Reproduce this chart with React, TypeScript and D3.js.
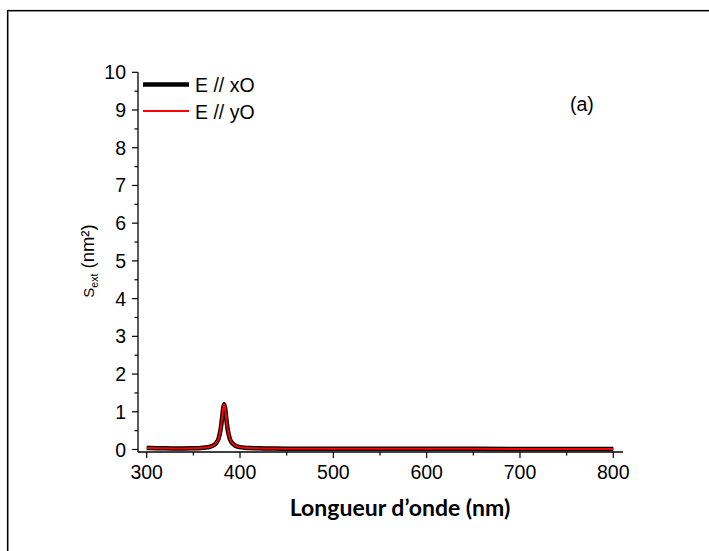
import React from "react";
import * as d3 from "d3";

const wavelengths = [300, 310, 320, 330, 340, 350, 355, 360, 365, 370, 373, 375, 377, 379, 380, 381, 382, 383, 384, 385, 386, 387, 389, 391, 393, 395, 400, 405, 410, 420, 430, 450, 500, 600, 700, 800];
const sextX = [0.04, 0.035, 0.03, 0.028, 0.028, 0.032, 0.036, 0.044, 0.058, 0.091, 0.136, 0.19, 0.29, 0.5, 0.67, 0.88, 1.1, 1.2, 1.1, 0.88, 0.67, 0.5, 0.29, 0.19, 0.136, 0.1, 0.063, 0.047, 0.037, 0.03, 0.026, 0.022, 0.02, 0.018, 0.016, 0.015];
const sextY = [0.04, 0.035, 0.03, 0.028, 0.028, 0.032, 0.036, 0.044, 0.058, 0.091, 0.136, 0.19, 0.29, 0.5, 0.67, 0.88, 1.1, 1.2, 1.1, 0.88, 0.67, 0.5, 0.29, 0.19, 0.136, 0.1, 0.063, 0.047, 0.037, 0.03, 0.026, 0.022, 0.02, 0.018, 0.016, 0.015];
const xTicks = [300, 400, 500, 600, 700, 800];
const yTicks = [0, 1, 2, 3, 4, 5, 6, 7, 8, 9, 10];
const legendLabels = ["E // xO", "E // yO"];

export default function App() {
  const x = d3.scaleLinear().domain([300, 800]).range([146.7, 613.3]);
  const y = d3.scaleLinear().domain([0, 10]).range([449.5, 72.3]);
  const xMinor = d3.range(350, 800, 100);
  const yMinor = d3.range(0.5, 10, 1);
  const axisLeft = 138;
  const axisBottom = 452;
  const line = d3
    .line<number>()
    .x((_, i) => x(wavelengths[i]))
    .y((d) => y(d))
    .curve(d3.curveMonotoneX);
  const font = "Liberation Sans, Arial, sans-serif";
  return (
    <svg
      width={709}
      height={551}
      style={{ position: "absolute", left: 0, top: 0, background: "#fff" }}
    >
      <rect x={0} y={0} width={709} height={551} fill="#fff" />
      <rect x={8.5} y={11.5} width={720} height={560} fill="none" stroke="#999" strokeWidth={1} />
      <rect x={7.5} y={10.5} width={720} height={560} fill="none" stroke="#000" strokeWidth={1.2} />
      {/* axes */}
      <line x1={axisLeft} x2={axisLeft} y1={y(10)} y2={axisBottom} stroke="#000" strokeWidth={1.3} />
      <line x1={axisLeft} x2={623} y1={axisBottom} y2={axisBottom} stroke="#000" strokeWidth={1.3} />
      {yTicks.map((t) => (
        <g key={"yt" + t}>
          <line x1={axisLeft - 6} x2={axisLeft} y1={y(t)} y2={y(t)} stroke="#000" strokeWidth={1.2} />
          <text x={axisLeft - 12} y={y(t) + 7} textAnchor="end" fontFamily={font} fontSize={19.5}>
            {t}
          </text>
        </g>
      ))}
      {yMinor.map((t) => (
        <line key={"ym" + t} x1={axisLeft - 3.5} x2={axisLeft} y1={y(t)} y2={y(t)} stroke="#000" strokeWidth={1.2} />
      ))}
      {xTicks.map((t) => (
        <g key={"xt" + t}>
          <line x1={x(t)} x2={x(t)} y1={axisBottom} y2={axisBottom + 6} stroke="#000" strokeWidth={1.2} />
          <text x={x(t)} y={axisBottom + 27} textAnchor="middle" fontFamily={font} fontSize={19.5}>
            {t}
          </text>
        </g>
      ))}
      {xMinor.map((t) => (
        <line key={"xm" + t} x1={x(t)} x2={x(t)} y1={axisBottom} y2={axisBottom + 3.5} stroke="#000" strokeWidth={1.2} />
      ))}
      {/* data */}
      <path d={line(sextX) || ""} fill="none" stroke="#000" strokeWidth={4.5} strokeLinejoin="round" />
      <path d={line(sextY) || ""} fill="none" stroke="#ff0000" strokeWidth={2} strokeLinejoin="round" />
      {/* legend */}
      <line x1={143} x2={189} y1={84.5} y2={84.5} stroke="#000" strokeWidth={4.5} />
      <text x={195} y={92} fontFamily={font} fontSize={19.5}>{legendLabels[0]}</text>
      <line x1={143} x2={189} y1={111} y2={111} stroke="#ff0000" strokeWidth={1.8} />
      <text x={195} y={118.5} fontFamily={font} fontSize={19.5}>{legendLabels[1]}</text>
      <text x={570} y={111} fontFamily={font} fontSize={19.5}>(a)</text>
      {/* axis titles */}
      <text
        transform="translate(94,261) rotate(-90)"
        textAnchor="middle"
        fontFamily={font}
        fontSize={18.5}
      >
        <tspan fontSize={15}>S</tspan>
        <tspan fontSize={10.5} dy={4}>ext</tspan>
        <tspan dy={-4}> (nm²)</tspan>
      </text>
      <text
        x={400}
        y={516}
        textAnchor="middle"
        fontFamily="Lato, Open Sans, sans-serif"
        fontWeight="bold"
        fontSize={23}
      >
        Longueur d’onde (nm)
      </text>
    </svg>
  );
}
